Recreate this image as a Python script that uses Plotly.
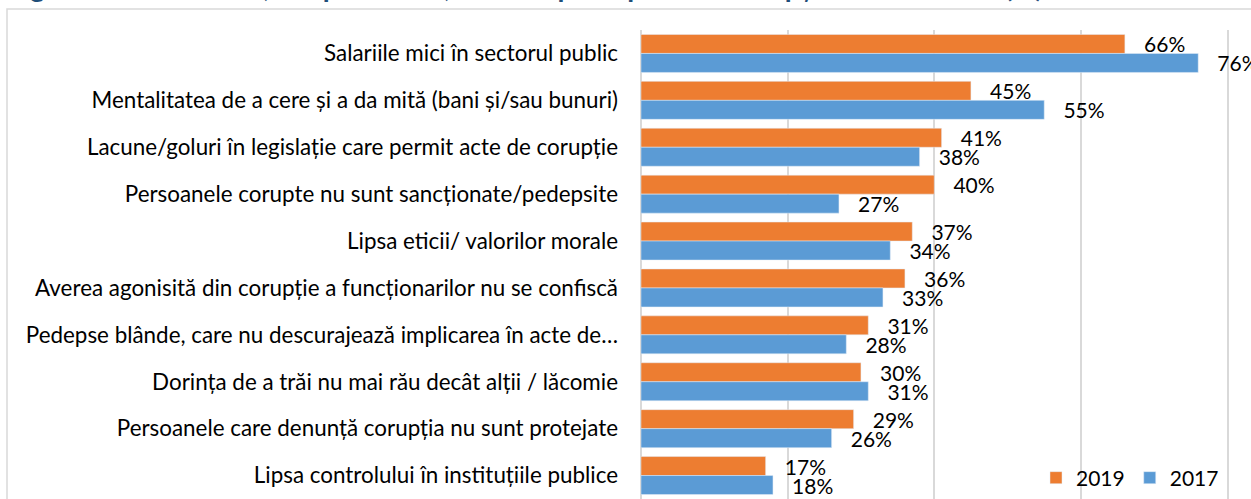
import plotly.graph_objects as go

# Survey answers: main causes of corruption, share of respondents (%)
categories = [
    "Salariile mici în sectorul public",
    "Mentalitatea de a cere și a da mită (bani și/sau bunuri)",
    "Lacune/goluri în legislație care permit acte de corupție",
    "Persoanele corupte nu sunt sancționate/pedepsite",
    "Lipsa eticii/ valorilor morale",
    "Averea agonisită din corupție a funcționarilor nu se confiscă",
    "Pedepse blânde, care nu descurajează implicarea în acte de…",
    "Dorința de a trăi nu mai rău decât alții / lăcomie",
    "Persoanele care denunță corupția nu sunt protejate",
    "Lipsa controlului în instituțiile publice",
]
values_2019 = [66, 45, 41, 40, 37, 36, 31, 30, 29, 17]
values_2017 = [76, 55, 38, 27, 34, 33, 28, 31, 26, 18]
title_text = "Figura 3.3: Care sunt, în opinia BTol, cauzele principale ale corupției în Moldova? (%)"

FONT = "Lato"
W, H = 1251, 499
ML, MR, MT, MB = 641, 22, 30, 0
plot_w = W - ML - MR
plot_h = H - MT - MB

label_tpl = "\u00a0\u00a0\u00a0%{x}%"

fig = go.Figure()
fig.add_trace(go.Bar(
    name="2019", y=categories, x=values_2019, orientation="h",
    marker=dict(color="#ed7d31"),
    texttemplate=label_tpl, textposition="outside", cliponaxis=False,
    constraintext="none",
    textfont=dict(family=FONT, size=21, color="#000000"),
))
fig.add_trace(go.Bar(
    name="2017", y=categories, x=values_2017, orientation="h",
    marker=dict(color="#5b9bd5"),
    texttemplate=label_tpl, textposition="outside", cliponaxis=False,
    constraintext="none",
    textfont=dict(family=FONT, size=21, color="#000000"),
))

def px_x(px):
    return (px - ML) / plot_w

def px_y(py):
    return 1 - (py - MT) / plot_h

# chart frame
fig.add_shape(type="rect", xref="paper", yref="paper",
              x0=px_x(7), x1=px_x(W + 20), y0=px_y(9), y1=px_y(H + 20),
              line=dict(color="#d9d9d9", width=1.5), layer="below")

fig.add_annotation(text="<b>" + title_text + "</b>", xref="paper", yref="paper",
                   x=px_x(5), y=px_y(5), xanchor="left", yanchor="bottom",
                   showarrow=False, font=dict(family=FONT, size=28, color="#1f4e79"))

fig.update_layout(
    width=W, height=H,
    margin=dict(l=ML, r=MR, t=MT, b=MB, pad=0),
    paper_bgcolor="white", plot_bgcolor="white",
    barmode="group", bargap=0.19, bargroupgap=0,
    font=dict(family=FONT, size=21, color="#000000"),
    showlegend=True,
    legend=dict(orientation="h", x=px_x(1036), y=px_y(478), xanchor="left", yanchor="middle",
                bgcolor="rgba(0,0,0,0)", font=dict(family=FONT, size=21, color="#000000"),
                traceorder="normal", itemwidth=30),
    xaxis=dict(range=[0, 80.2], dtick=20, showgrid=True, gridcolor="#d9d9d9", gridwidth=1.5,
               zeroline=True, zerolinecolor="#d9d9d9", zerolinewidth=1.5,
               showticklabels=False, showline=False, fixedrange=True),
    yaxis=dict(autorange="reversed", showgrid=False, showline=False, ticks="",
               ticklabelstandoff=22, tickfont=dict(family=FONT, size=22.4, color="#000000")),
)

fig.write_html("out.html")
